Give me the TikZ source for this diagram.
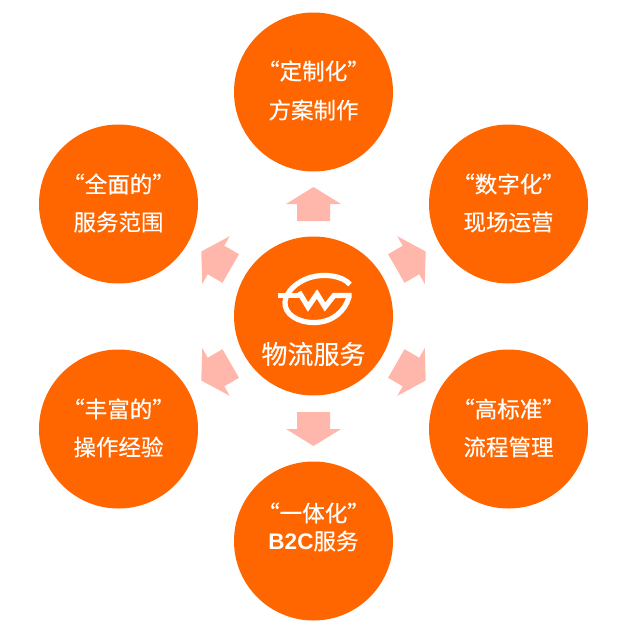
\documentclass[tikz,border=0pt]{standalone}
\usepackage{fontspec}
\setmainfont{Liberation Sans}
\newfontfamily\cjk{Noto Sans CJK SC}
\newfontfamily\cjkheavy[FakeBold=0.5]{Noto Sans CJK SC}
\newfontfamily\cjkmid[FakeBold=0.2]{Noto Sans CJK SC}
\newfontfamily\latinb{Liberation Sans}
\definecolor{hub}{HTML}{FF6600}
\definecolor{pale}{HTML}{FFB7AB}
\tikzset{
  x=1pt,y=-1pt,
  ball/.style={circle,fill=hub,draw=none,minimum size=159pt,inner sep=0pt},
  headline/.style={text=white,inner sep=0pt,font=\cjkheavy\fontsize{22.5}{26}\selectfont},
  subline/.style={text=white,inner sep=0pt,font=\cjkmid\fontsize{22.5}{26}\selectfont},
  logoline/.style={white,line width=5.2pt,line join=miter},
  blockarrow/.pic={\fill[pale] (0,-17)--(27.5,0)--(16.5,0)--(16.5,17)--(-16.5,17)--(-16.5,0)--(-27.5,0)--cycle;}
}
\begin{document}
\begin{tikzpicture}
\useasboundingbox (0,0) rectangle (632,637);
\fill[white] (0,0) rectangle (632,637);
\node[ball] (top) at (313.5,92) {};
\node[ball] (ul) at (118.5,204) {};
\node[ball] (ur) at (508.5,204) {};
\node[ball] (ll) at (118.5,429) {};
\node[ball] (lr) at (508.5,429) {};
\node[ball] (bot) at (313.5,541) {};
\node[ball] (hubc) at (313.5,316) {};
\node[headline] (t1) at (313.5,71) {“定制化”};
\node[subline] (t2) at (313.5,110) {方案制作};
\node[headline] (a1) at (118.5,184) {“全面的”};
\node[subline] (a2) at (118.5,222) {服务范围};
\node[headline] (b1) at (508.5,184) {“数字化”};
\node[subline] (b2) at (508.5,222) {现场运营};
\node[headline] (c1) at (118.5,409) {“丰富的”};
\node[subline] (c2) at (118.5,447) {操作经验};
\node[headline] (d1) at (508.5,409) {“高标准”};
\node[subline] (d2) at (508.5,447) {流程管理};
\node[headline] (e1) at (313.5,513) {“一体化”};
\node[subline] (e2) at (313.5,541) {{\latinb\bfseries B2C}服务};
\node[text=white,inner sep=0pt,font=\cjkmid\fontsize{26}{30}\selectfont] (hublabel) at (313.5,354) {物流服务};
\pic at (313.5,204) {blockarrow};
\pic[rotate=180] at (313.5,429) {blockarrow};
\pic[rotate=-60] at (411,260) {blockarrow};
\pic[rotate=60] at (216,260) {blockarrow};
\pic[rotate=-120] at (411,372) {blockarrow};
\pic[rotate=120] at (216,372) {blockarrow};
% logo
\draw[logoline] (350,284.5) .. controls (343,276) and (325,273) .. (310,277.5) .. controls (296,282) and (286,292) .. (285,302) .. controls (284,314) and (298,323) .. (315,322.5) .. controls (333,322) and (345,311) .. (349,297);
\fill[white] (277.5,292.7) rectangle (303,298.3);
\draw[logoline] (299,292) -- (308,307) -- (317,294) -- (325,307) -- (334,295.5) -- (351.5,295.5);
\end{tikzpicture}
\end{document}
